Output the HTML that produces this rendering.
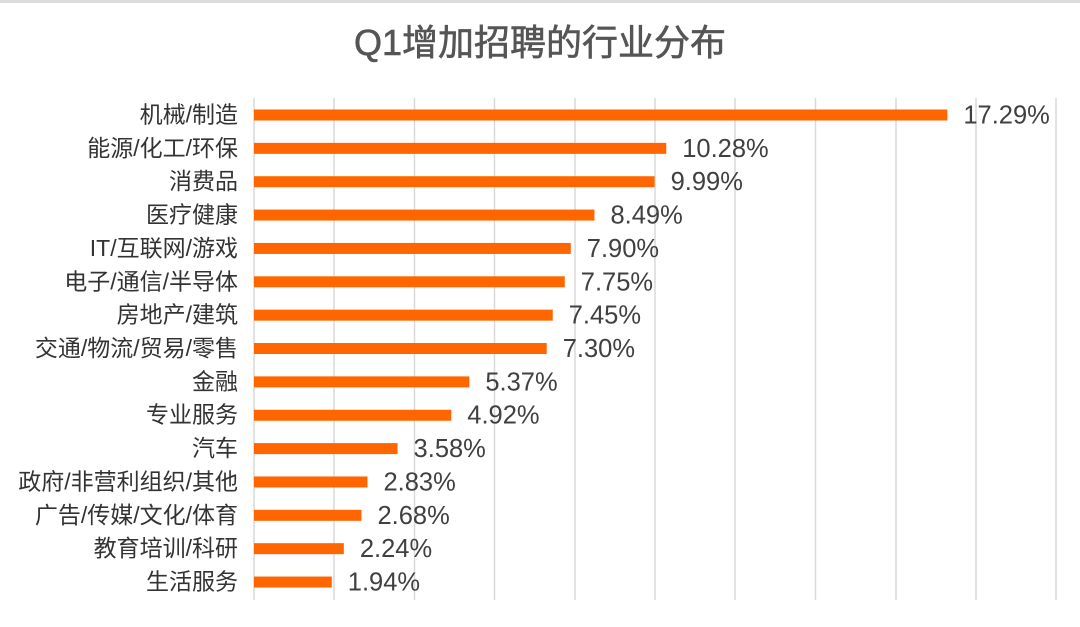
<!DOCTYPE html>
<html><head><meta charset="utf-8"><style>
body{margin:0;background:#fff;}
svg text{font-family:"Liberation Sans","Noto Sans CJK SC",sans-serif;}
</style></head><body>
<svg width="1080" height="622" xmlns="http://www.w3.org/2000/svg">
<rect x="0" y="0" width="1080" height="3" fill="#dcdcdc"/>
<text x="540" y="55" text-anchor="middle" font-size="36" fill="#555" stroke="#555" stroke-width="0.6">Q1增加招聘的行业分布</text>
<g stroke="#d9d9d9" stroke-width="1.5">
<line x1="254" y1="98" x2="254" y2="600"/><line x1="334" y1="98" x2="334" y2="600"/>
<line x1="414.5" y1="98" x2="414.5" y2="600"/><line x1="494.5" y1="98" x2="494.5" y2="600"/>
<line x1="575" y1="98" x2="575" y2="600"/><line x1="655" y1="98" x2="655" y2="600"/>
<line x1="735" y1="98" x2="735" y2="600"/><line x1="815.5" y1="98" x2="815.5" y2="600"/>
<line x1="896" y1="98" x2="896" y2="600"/><line x1="976" y1="98" x2="976" y2="600"/>
<line x1="1056" y1="98" x2="1056" y2="600"/>
</g>
<g id="bars"></g>
</svg>
<script>
var d=[["机械/制造",17.29],["能源/化工/环保",10.28],["消费品",9.99],["医疗健康",8.49],["IT/互联网/游戏",7.90],["电子/通信/半导体",7.75],["房地产/建筑",7.45],["交通/物流/贸易/零售",7.30],["金融",5.37],["专业服务",4.92],["汽车",3.58],["政府/非营利组织/其他",2.83],["广告/传媒/文化/体育",2.68],["教育培训/科研",2.24],["生活服务",1.94]];
var g=document.getElementById("bars"),s="";
d.forEach(function(r,i){var y=115+i*33.36,w=r[1]*40.1;
s+='<rect x="254" y="'+(y-5.5)+'" width="'+w+'" height="11" fill="#ff6600"/>';
s+='<text x="238" y="'+(y+7.5)+'" text-anchor="end" font-size="23" fill="#333">'+r[0]+'</text>';
s+='<text x="'+(254+w+16)+'" y="'+(y+8.5)+'" font-size="25.5" fill="#404040">'+r[1].toFixed(2)+'%</text>';});
g.innerHTML=s;
</script>
</body></html>
